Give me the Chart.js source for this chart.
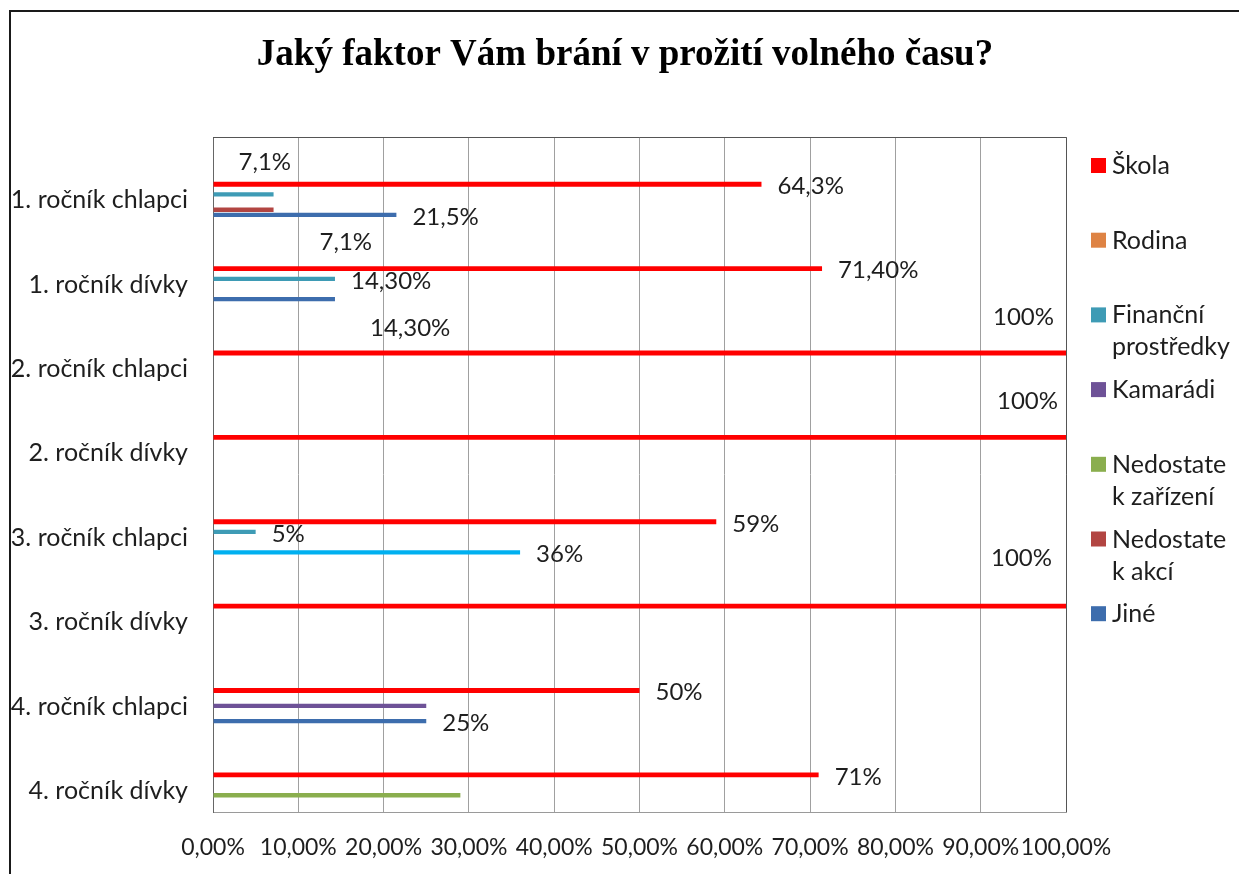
<!DOCTYPE html>
<html>
<head>
<meta charset="utf-8">
<script src="https://cdn.jsdelivr.net/npm/chart.js@4.4.1/dist/chart.umd.min.js"></script>
<style>
  html, body { margin: 0; padding: 0; background: #ffffff; overflow: hidden; }
  #wrap { position: relative; width: 1239px; height: 874px; }
</style>
</head>
<body>
<div id="wrap"><canvas id="c"></canvas></div>
<script>
// ---------------- DATA ----------------
const titleText = "Jaký faktor Vám brání v prožití volného času?";
const categories = ["1. ročník chlapci", "1. ročník dívky", "2. ročník chlapci", "2. ročník dívky",
                    "3. ročník chlapci", "3. ročník dívky", "4. ročník chlapci", "4. ročník dívky"];
const seriesNames = ["Škola", "Rodina", "Finanční prostředky", "Kamarádi", "Nedostatek zařízení", "Nedostatek akcí", "Jiné"];
const legendLines = [["Škola"], ["Rodina"], ["Finanční", "prostředky"], ["Kamarádi"], ["Nedostate", "k zařízení"], ["Nedostate", "k akcí"], ["Jiné"]];

const skola       = [64.3, 71.4, 100, 100, 59, 100, 50, 71];
const rodina      = [null, null, null, null, null, null, null, null];
const financni    = [7.1, 14.3, null, null, 5, null, null, null];
const kamaradi    = [null, null, null, null, null, null, 25, null];
const nedZarizeni = [null, null, null, null, null, null, null, 29];
const nedAkci     = [7.1, null, null, null, null, null, null, null];
const jine        = [21.5, 14.3, null, null, 36, null, 25, null];

const skolaLabels    = ["64,3%", "71,40%", "100%", "100%", "59%", "100%", "50%", "71%"];
const financniLabels = ["7,1%", "14,30%", null, null, "5%", null, null, null];
const nedAkciLabels  = ["7,1%", null, null, null, null, null, null, null];
const jineLabels     = ["21,5%", "14,30%", null, null, "36%", null, "25%", null];

const xTickLabels = ["0,00%", "10,00%", "20,00%", "30,00%", "40,00%", "50,00%", "60,00%", "70,00%", "80,00%", "90,00%", "100,00%"];

// ---------------- STYLE ----------------
const colors = ["#FF0000", "#DE8344", "#3E9BB5", "#6E5297", "#8AAE4E", "#B24542", "#3D6DAD"];
const jineColors = jine.map((v, i) => i === 4 ? "#00B0F0" : colors[6]);
const labelFont = "24px Lato";
const catFont = { family: "Lato", size: 25 };
const tickFont = { family: "Lato", size: 23 };
// label nudges (px) relative to default outside-end placement: [dx, dy]
const labelNudges = {
  "Škola": [null, null, [-89, -38], [-85, -38], null, [-91, -50], null, null],
  "Finanční prostředky": [[-51, -34], null, null, null, null, null, null, null],
  "Nedostatek akcí": [[30, 31], null, null, null, null, null, null, null],
  "Jiné": [null, [19, 27], null, null, null, null, null, null]
};
const labelTexts = { "Škola": skolaLabels, "Finanční prostředky": financniLabels, "Nedostatek akcí": nedAkciLabels, "Jiné": jineLabels };

const seriesData = [skola, rodina, financni, kamaradi, nedZarizeni, nedAkci, jine];

// empty spacer slots keep the bar group in the same place inside each category band
const datasets = [];
for (let s = 0; s < 8; s++) {
  datasets.push({ label: "", data: [], spacer: true, backgroundColor: "rgba(0,0,0,0)", barPercentage: 0.85, categoryPercentage: 0.905 });
}
seriesNames.forEach((name, k) => {
  datasets.push({
    label: name,
    data: seriesData[k],
    backgroundColor: k === 6 ? jineColors : colors[k],
    borderWidth: 0,
    barPercentage: k === 0 ? 0.95 : 0.85,
    categoryPercentage: 0.905
  });
});

const decor = {
  id: "decor",
  afterDraw(chart) {
    const ctx = chart.ctx;
    const a = chart.chartArea;
    ctx.save();
    // outer frame
    ctx.strokeStyle = "#1a1a1a";
    ctx.lineWidth = 2;
    ctx.strokeRect(10, 11, 1260, 900);
    // plot area top and right edge
    ctx.strokeStyle = "#555555";
    ctx.lineWidth = 1;
    ctx.beginPath();
    ctx.moveTo(a.left, Math.round(a.top) + 0.5);
    ctx.lineTo(Math.round(a.right) + 0.5, Math.round(a.top) + 0.5);
    ctx.lineTo(Math.round(a.right) + 0.5, a.bottom);
    ctx.stroke();
    // title
    ctx.fillStyle = "#000000";
    ctx.font = "bold 37px 'Liberation Serif'";
    ctx.textAlign = "center";
    ctx.textBaseline = "alphabetic";
    ctx.fillText(titleText, 625, 65);
    // data labels
    ctx.font = labelFont;
    ctx.fillStyle = "#1e1e1e";
    ctx.textAlign = "left";
    ctx.textBaseline = "middle";
    chart.data.datasets.forEach((ds, di) => {
      const texts = labelTexts[ds.label];
      if (!texts) return;
      const meta = chart.getDatasetMeta(di);
      texts.forEach((t, i) => {
        if (!t) return;
        const el = meta.data[i];
        if (!el) return;
        const n = (labelNudges[ds.label] && labelNudges[ds.label][i]) || [0, 0];
        ctx.fillText(t, el.x + 16 + n[0], el.y + 2 + n[1]);
      });
    });
    // legend
    ctx.font = "25px Lato";
    seriesNames.forEach((name, k) => {
      const y = 165 + 74.7 * k;
      ctx.fillStyle = colors[k];
      ctx.fillRect(1091, y - 7, 15, 15);
      ctx.fillStyle = "#1e1e1e";
      legendLines[k].forEach((line, li) => {
        ctx.fillText(line, 1112, y + 1 + li * 32);
      });
    });
    ctx.restore();
  }
};

new Chart(document.getElementById("c"), {
  type: "bar",
  data: { labels: categories, datasets: datasets },
  options: {
    indexAxis: "y",
    responsive: true,
    maintainAspectRatio: false,
    animation: false,
    layout: { padding: { top: 137, right: 173, bottom: 0, left: 0 } },
    plugins: {
      legend: { display: false },
      title: { display: false },
      tooltip: { enabled: false }
    },
    scales: {
      x: {
        min: 0, max: 100,
        ticks: {
          stepSize: 10,
          autoSkip: false,
          maxRotation: 0,
          padding: 22,
          color: "#1e1e1e",
          font: tickFont,
          callback: (v, i) => xTickLabels[i]
        },
        grid: { color: "#a0a0a0", lineWidth: 1, drawTicks: false },
        border: { display: true, color: "#9a9a9a" },
        afterFit: (s) => { s.height = 62; }
      },
      y: {
        ticks: {
          padding: 25,
          color: "#1e1e1e",
          font: catFont,
          labelOffset: 21
        },
        grid: { display: false, drawTicks: false },
        border: { display: true, color: "#666666" },
        afterFit: (s) => { s.width = 213; }
      }
    }
  },
  plugins: [decor]
});
</script>
</body>
</html>
